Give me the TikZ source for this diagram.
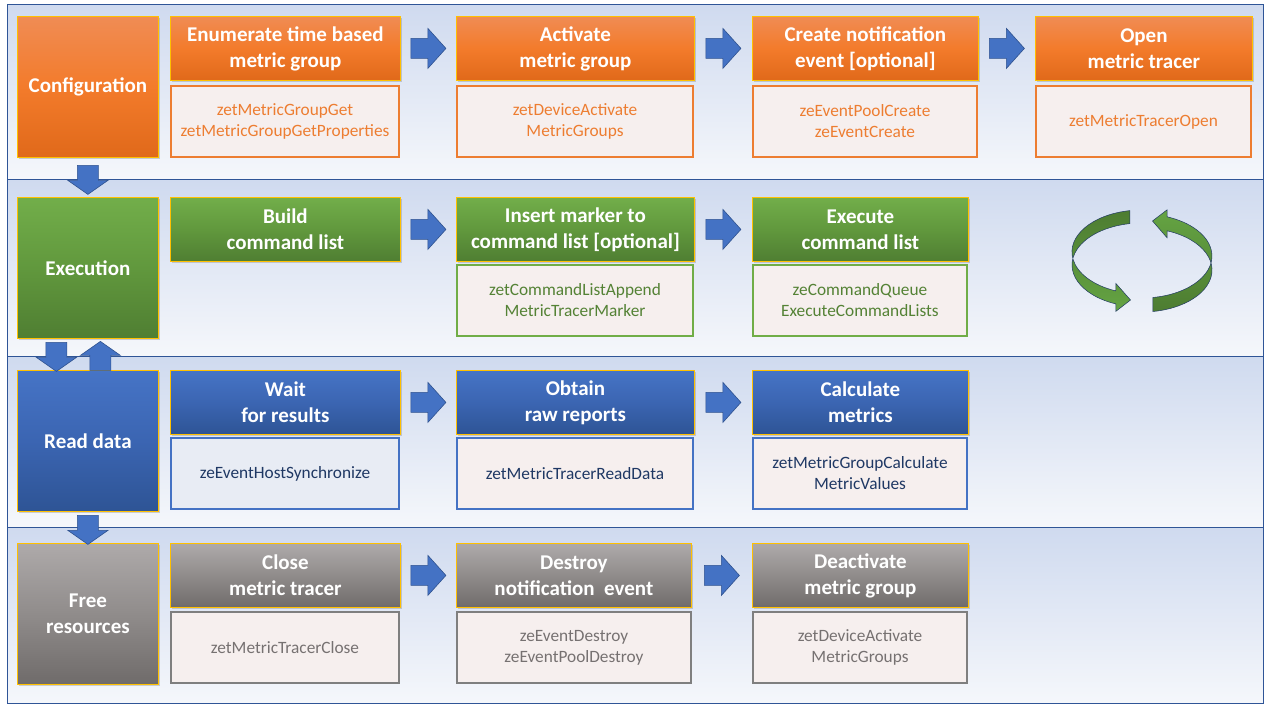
\documentclass[tikz,border=0pt]{standalone}
\usepackage{fontspec}
\setmainfont{Carlito}
\usepackage{tikz}
\usetikzlibrary{calc,shadows}

\definecolor{orTop}{HTML}{F08C54}
\definecolor{orMid}{HTML}{F37B2B}
\definecolor{orBot}{HTML}{E0691A}
\definecolor{orLine}{HTML}{ED7D31}
\definecolor{grTop}{HTML}{72AE4A}
\definecolor{grMid}{HTML}{61983D}
\definecolor{grBot}{HTML}{4F7E32}
\definecolor{grLine}{HTML}{70AD47}
\definecolor{grText}{HTML}{548235}
\definecolor{blTop}{HTML}{4674C6}
\definecolor{blMid}{HTML}{3B65B2}
\definecolor{blBot}{HTML}{2E5495}
\definecolor{blLine}{HTML}{4472C4}
\definecolor{blText}{HTML}{1F3864}
\definecolor{gyTop}{HTML}{AEAAAA}
\definecolor{gyMid}{HTML}{908C8B}
\definecolor{gyBot}{HTML}{6F6B6A}
\definecolor{gyLine}{HTML}{7F7F7F}
\definecolor{gyText}{HTML}{767171}
\definecolor{gold}{HTML}{FFC000}
\definecolor{apiFill}{HTML}{F6EFEE}
\definecolor{apiBlue}{HTML}{E8ECF4}
\definecolor{frameCol}{HTML}{2F5597}
\definecolor{bgTop}{HTML}{CFDAEF}
\definecolor{bgBot}{HTML}{F5F7FB}
\definecolor{arrFill}{HTML}{4472C4}
\definecolor{arrLine}{HTML}{2F528F}
\definecolor{loopDark}{HTML}{4D7C31}
\definecolor{loopLight}{HTML}{65A443}

\newcommand{\hdrfont}{\bfseries\fontsize{21}{26}\selectfont}
\newcommand{\apifont}{\fontsize{17.3}{21}\selectfont}

\tikzset{
  box/.style={anchor=north west, inner sep=0pt, align=center},
  shadowed/.style={drop shadow={opacity=0.35, shadow xshift=2pt, shadow yshift=-2pt}},
  phase/.style={box, shadowed, draw=gold, line width=0.8pt, minimum width=141pt, minimum height=141pt, text=white, font=\hdrfont},
  hdr/.style={box, shadowed, draw=gold, line width=0.8pt, minimum height=64pt, text=white, font=\hdrfont},
  api/.style={box, line width=2pt, minimum height=71pt, fill=apiFill, font=\apifont},
  orangefill/.style={top color=orTop, bottom color=orBot, middle color=orMid},
  greenfill/.style={top color=grTop, bottom color=grBot, middle color=grMid},
  bluefill/.style={top color=blTop, bottom color=blBot, middle color=blMid},
  grayfill/.style={top color=gyTop, bottom color=gyBot, middle color=gyMid},
  orangeapi/.style={api, draw=orLine, text=orLine},
  greenapi/.style={api, draw=grLine, text=grText},
  blueapi/.style={api, draw=blLine, text=blText},
  grayapi/.style={api, draw=gyLine, text=gyText},
  blockarr/.style={fill=arrFill, draw=arrLine, line width=0.6pt},
  loopstyle/.style={draw=arrLine!70!black, line width=0.5pt}
}

% block arrows between two named nodes
\newcommand{\rarr}[2]{\draw[blockarr] ($(#1.east)!0.5!(#2.west)+(-17.5,-10)$) -- ++(17,0) -- ++(0,-10) -- ++(18,20) -- ++(-18,20) -- ++(0,-10) -- ++(-17,0) -- cycle;}
\newcommand{\darr}[3]{\draw[blockarr] ($(#1.south)!0.5!(#2.north)+(#3-10.5,-12)$) -- ++(21,0) -- ++(0,15) -- ++(9.5,0) -- ++(-20,14) -- ++(-20,-14) -- ++(9.5,0) -- cycle;}
\newcommand{\uarr}[3]{\draw[blockarr] ($(#2.south)!0.5!(#1.north)+(#3-10.5,16)$) -- ++(21,0) -- ++(0,-15) -- ++(9.5,0) -- ++(-20,-14) -- ++(-20,14) -- ++(9.5,0) -- cycle;}

\begin{document}
\begin{tikzpicture}[x=1pt,y=-1pt]
\useasboundingbox (0,0) rectangle (1280,720);
%\draw[help lines,step=40](0,0)grid(1280,720);
\fill[white] (0,0) rectangle (1280,720);
\foreach \ya/\yb in {4/179,179/356,356/527,527/703}
  \shade[top color=bgTop, middle color=bgBot, bottom color=bgBot] (7,\ya) rectangle (1263,\yb);
\draw[frameCol, line width=1pt] (7,4) rectangle (1263,703);
\foreach \y in {179,356,527}
  \draw[frameCol, line width=1pt] (7,\y) -- (1263,\y);

% configuration
\node[phase, orangefill] (conf) at (17,16) {Configuration};
\node[hdr, orangefill, minimum width=230pt] (c1) at (170,16) {Enumerate time based\\metric group};
\node[hdr, orangefill, minimum width=238pt] (c2) at (456,16) {Activate\\metric group};
\node[hdr, orangefill, minimum width=226pt] (c3) at (752,16) {Create notification\\event [optional]};
\node[hdr, orangefill, minimum width=217pt] (c4) at (1035,16) {Open\\metric tracer};
\node[orangeapi, minimum width=228pt] (c1api) at (170,85) {zetMetricGroupGet\\zetMetricGroupGetProperties};
\node[orangeapi, minimum width=236pt] (c2api) at (456,85) {zetDeviceActivate\\MetricGroups};
\node[orangeapi, minimum width=224pt] (c3api) at (752,85) {zeEventPoolCreate\\zeEventCreate};
\node[orangeapi, minimum width=215pt] (c4api) at (1035,85) {zetMetricTracerOpen};
\rarr{c1}{c2} \rarr{c2}{c3} \rarr{c3}{c4}

% execution
\node[phase, greenfill] (exec) at (17,197) {Execution};
\node[hdr, greenfill, minimum width=230pt] (e1) at (170,197) {Build\\command list};
\node[hdr, greenfill, minimum width=238pt] (e2) at (456,197) {Insert marker to\\command list [optional]};
\node[hdr, greenfill, minimum width=216pt] (e3) at (752,197) {Execute\\command list};
\node[greenapi, minimum width=236pt] (e2api) at (456,264) {zetCommandListAppend\\MetricTracerMarker};
\node[greenapi, minimum width=214pt] (e3api) at (752,264) {zeCommandQueue\\ExecuteCommandLists};
\rarr{e1}{e2} \rarr{e2}{e3}

% loop sign
\shade[loopstyle, top color=loopDark, bottom color=loopLight]
  (1129.8,210.6) arc[start angle=260, end angle=112, x radius=70, y radius=42]
  -- (1115.8,283.4) -- (1130.5,300) -- (1115.8,311.4) -- (1115.8,303.9)
  arc[start angle=112, end angle=260, x radius=70, y radius=42] -- cycle;
\shade[loopstyle, top color=loopLight, bottom color=loopDark]
  (1152.9,297.5) arc[start angle=81, end angle=-69, x radius=70, y radius=42]
  -- (1167.1,209.8) -- (1152.5,221) -- (1167.1,237.8) -- (1167.1,230.8)
  arc[start angle=-69, end angle=81, x radius=70, y radius=42] -- cycle;

% read data
\node[phase, bluefill] (read) at (17,370) {Read data};
\node[hdr, bluefill, minimum width=230pt] (r1) at (170,370) {Wait\\for results};
\node[hdr, bluefill, minimum width=238pt] (r2) at (456,370) {Obtain\\raw reports};
\node[hdr, bluefill, minimum width=216pt] (r3) at (752,370) {Calculate\\metrics};
\node[blueapi, fill=apiBlue, minimum width=228pt] (r1api) at (170,437) {zeEventHostSynchronize};
\node[blueapi, minimum width=236pt] (r2api) at (456,437) {zetMetricTracerReadData};
\node[blueapi, minimum width=214pt] (r3api) at (752,437) {zetMetricGroupCalculate\\MetricValues};
\rarr{r1}{r2} \rarr{r2}{r3}

% free resources
\node[phase, grayfill] (free) at (17,543) {Free\\resources};
\node[hdr, grayfill, minimum width=230pt] (f1) at (170,543) {Close\\metric tracer};
\node[hdr, grayfill, minimum width=235pt] (f2) at (456,543) {Destroy\\notification\ \ event};
\node[hdr, grayfill, minimum width=216pt] (f3) at (752,543) {Deactivate\\metric group};
\node[grayapi, minimum width=228pt] (f1api) at (170,611) {zetMetricTracerClose};
\node[grayapi, minimum width=234pt] (f2api) at (456,611) {zeEventDestroy\\zeEventPoolDestroy};
\node[grayapi, minimum width=214pt] (f3api) at (752,611) {zetDeviceActivate\\MetricGroups};
\rarr{f1}{f2} \rarr{f2}{f3}

% phase to phase
\darr{conf}{exec}{0}
\darr{exec}{read}{-31.5}
\uarr{read}{exec}{12.5}
\darr{read}{free}{0}
\end{tikzpicture}
\end{document}
